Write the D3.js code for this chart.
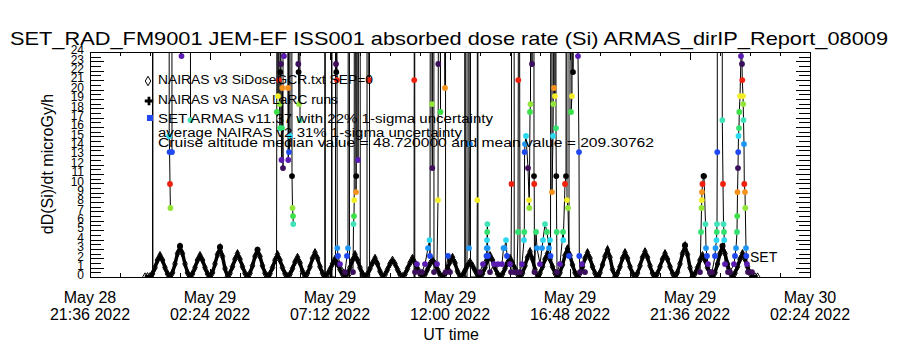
<!DOCTYPE html>
<html lang="en">
<head>
  <meta charset="UTF-8">
  <script src="https://cdn.jsdelivr.net/npm/d3@7"></script>
  <title>SET_RAD_FM9001 JEM-EF absorbed dose rate</title>
  <style>
    body { margin: 0; background: #fff; }
    svg text { font-family: "Liberation Sans", "DejaVu Sans", sans-serif; font-weight: 400; fill: #000; }
  </style>
</head>
<body>
  <svg width="900" height="350" id="chart"></svg>
  <script>
    // all data times are minutes after 2022-05-29 00:00 UT
    const baseTime = Date.UTC(2022, 4, 29, 0, 0);

    const xTickTimes = ["2022-05-28T21:36:00Z", "2022-05-29T02:24:00Z", "2022-05-29T07:12:00Z",
      "2022-05-29T12:00:00Z", "2022-05-29T16:48:00Z", "2022-05-29T21:36:00Z", "2022-05-30T02:24:00Z"];
    const yTickLabels = [0, 1, 2, 3, 4, 5, 6, 7, 8, 9, 10, 11, 12, 13, 14, 15, 16, 17, 18, 19, 20, 21, 22, 23, 24];

    const legendLines = [
      "NAIRAS v3 SiDoseGCR.txt SEP=0",
      "NAIRAS v3 NASA LaRC runs",
      "SET ARMAS v11.37 with 22% 1-sigma uncertainty",
      "average NAIRAS v2 31% 1-sigma uncertainty",
      "Cruise altitude median value = 48.720000 and mean value = 209.30762"
    ];

    // NAIRAS v3 SiDose, 6 minute samples starting 2022-05-28 23:48 UT
    const nairasStart = -12, nairasStep = 6;
    const nairasDose = [0.02, 0.05,
      0.05, 0.35, 1.0, 1.8, 2.3, 1.8, 1.0, 0.35,
      0.05, 0.45, 1.4, 2.5, 3.2, 2.5, 1.4, 0.45,
      0.05, 0.35, 1.0, 1.8, 2.3, 1.8, 1.0, 0.35,
      0.05, 0.45, 1.4, 2.4, 3.1, 2.2, 0.9,
      0.05, 0.4, 1.1, 1.9, 2.5, 1.9, 1.1, 0.4,
      0.05, 0.4, 1.2, 2.2, 2.8, 2.2, 1.2, 0.4,
      0.05, 0.35, 1.0, 1.8, 2.4, 1.8, 1.0, 0.35,
      0.05, 0.3, 0.9, 1.6, 2.1, 1.5, 0.6,
      0.05, 0.4, 1.1, 2.0, 2.6, 2.0, 1.1, 0.4,
      0.05, 0.3, 0.8, 1.4, 1.9, 1.4, 0.8, 0.3,
      0.05, 0.35, 1.0, 1.8, 2.4, 1.8, 1.0, 0.35,
      0.05, 0.3, 0.9, 1.5, 2.0, 1.4, 0.6,
      0.05, 0.25, 0.8, 1.4, 1.8, 1.4, 0.8, 0.25,
      0.05, 0.3, 0.9, 1.5, 2.0, 1.5, 0.9, 0.3,
      0.05, 0.25, 0.8, 1.4, 1.8, 1.4, 0.8, 0.25,
      0.05, 0.3, 0.9, 1.6, 2.1, 1.5, 0.6,
      0.05, 0.2, 0.7, 1.2, 1.6, 1.2, 0.7, 0.2,
      0.05, 0.35, 1.0, 1.8, 2.3, 1.8, 1.0, 0.35,
      0.05, 0.3, 0.9, 1.5, 2.0, 1.5, 0.9, 0.3,
      0.05, 0.4, 1.2, 2.1, 2.7, 1.9, 0.8,
      0.05, 0.4, 1.1, 1.9, 2.5, 1.9, 1.1, 0.4,
      0.05, 0.45, 1.3, 2.3, 3.0, 2.3, 1.3, 0.45,
      0.05, 0.4, 1.1, 2.0, 2.6, 2.0, 1.1, 0.4,
      0.05, 0.45, 1.3, 2.2, 2.9, 2.1, 0.8,
      0.05, 0.4, 1.1, 2.0, 2.6, 2.0, 1.1, 0.4,
      0.05, 0.4, 1.2, 2.1, 2.7, 2.1, 1.2, 0.4,
      0.05, 0.4, 1.1, 1.9, 2.5, 1.9, 1.1, 0.4,
      0.05, 0.5, 1.4, 2.5, 3.3, 2.4, 1.0,
      0.05, 0.35, 1.0, 1.8, 2.3, 1.8, 1.0, 0.35,
      0.05, 0.45, 1.4, 2.5, 3.2, 2.5, 1.4, 0.45,
      0.05, 0.4, 1.1, 1.9, 2.5, 1.9, 1.1, 0.4,
      0.05, 0.03, 0.02];

    // NAIRAS v3 NASA LaRC runs [minute, dose]
    const larcRuns = [[72, 3.3], [168, 3.2], [258, 2.9], [1284, 3.4], [1374, 3.3]];

    // SET ARMAS [minute, dose]; null = data gap, values above 24 are off scale
    const armasEarly = [
      [6.0, 0], [6.5, 150], [7.0, 0], null,
      [45.1, 130], [46.1, 15.04], [47.0, 13.33], [48.0, 9.92], [49.0, 7.36], null,
      [51.6, 120], [52.8, 13.33], null,
      [74.4, 90], [75.6, 23.57], null,
      [96.0, 110], [97.2, 16.74], null,
      [303.6, 0], [304.3, 17.60], [305.3, 160], [307.2, 19.30], [308.6, 140], [309.6, 21.01], [310.8, 18.45],
      [312.0, 15.89], [312.7, 21.86], [313.4, 170], [314.4, 22.72], [315.6, 12.48], [316.8, 15.89], [317.5, 20.16],
      [319.2, 11.62], [320.4, 150], [321.6, 23.57], [322.8, 200], [331.2, 20.16], [331.9, 12.48], [332.9, 180],
      [333.6, 13.33], [336.0, 15.04], [337.2, 160], [340.8, 10.77], [342.0, 7.36], [343.2, 6.50], [343.9, 5.65], null,
      [355.2, 120], [355.9, 22.72], [356.6, 21.86], [357.6, 18.45], [358.3, 140], [360.0, 16.74], null
    ];
    const armasMid = [
      [419.5, 0], [420.0, 188], [420.7, 0],
      [435.6, 0], [436.1, 164], [436.8, 0],
      [445.2, 0], [445.7, 97], [446.4, 22.72], [447.1, 21.86], [448.3, 121], [448.8, 21.01], [449.5, 3.09],
      [451.2, 2.24], [456.0, 1.38], [468.0, 0.53], [472.8, 2.24], [475.2, 3.09], [478.1, 143], [478.8, 0],
      [487.2, 0.53], [488.4, 5.65], [489.6, 6.50], [490.1, 8.21], [490.8, 86], [494.4, 9.06], [494.9, 10.77],
      [495.6, 132], [499.2, 12.48], [504.0, 77], [504.7, 0],
      [520.8, 0], [521.5, 205], [525.6, 21.01], [526.3, 118], [527.0, 0], null,
      [633.6, 0], [634.1, 21.01], [634.8, 176], [635.5, 0], [636.0, 0.53], [640.8, 1.38], [648.0, 0.53],
      [652.8, 0.53], [660.0, 1.38], [667.2, 3.09], [670.8, 3.94], [672.0, 2.24], [675.6, 154], [676.8, 18.45],
      [677.5, 11.62], [679.9, 139], [681.6, 0.53], [688.8, 1.38], [691.2, 8.21], [691.9, 22.72], [692.6, 91],
      [697.2, 17.60], [697.9, 126], [708.0, 20.16], [708.7, 167], [709.4, 0.53], [715.2, 2.24], [720.0, 0.53], null
    ];
    const armasLate = [
      [755.5, 0], [756.0, 211], [756.7, 0], [760.8, 0], [761.5, 158], [765.6, 3.09], [768.0, 14.18], [768.7, 102],
      [769.2, 0], [784.8, 0], [785.5, 8.21], [786.2, 137], [787.2, 0],
      [792.0, 0.53], [799.2, 1.38], [807.6, 2.24], [808.3, 3.09], [808.8, 3.94], [809.3, 4.80], [809.8, 5.65],
      [810.2, 3.09], [811.2, 2.24], [816.0, 0.53], [825.6, 1.38], [835.2, 1.38], [844.8, 1.38], [848.4, 3.09],
      [850.8, 3.09], [854.4, 3.94], [856.8, 2.24], [864.0, 1.38],
      [866.4, 0.53], [867.6, 9.92], [868.3, 184], [873.6, 129], [874.1, 0.53], [880.8, 0.53], [883.2, 4.80],
      [883.9, 21.01], [884.6, 96], [888.0, 0.53], [892.8, 1.38], [897.6, 3.94], [898.3, 4.80], [899.0, 13.33],
      [900.0, 14.18], [902.4, 15.04], [907.2, 11.62], [909.6, 8.21], [910.3, 7.36], [912.0, 17.60], [913.2, 18.45],
      [913.9, 147], [916.8, 22.72], [917.5, 173], [921.1, 88], [921.6, 10.77], [922.1, 9.92], [922.8, 0.53],
      [926.4, 4.80], [928.8, 3.09], [936.0, 1.38], [940.8, 3.09], [943.2, 3.94], [948.0, 5.65], [952.8, 4.80],
      [957.6, 3.09], [960.0, 3.94], [961.2, 2.24], [963.6, 119], [964.8, 9.06], [967.2, 15.04], [967.9, 18.45],
      [968.6, 162], [969.6, 20.16], [972.0, 19.30], [973.2, 141], [974.4, 15.89], [975.1, 10.77], [976.1, 4.80],
      [976.8, 0.53], [984.0, 1.38], [991.2, 4.80], [991.9, 3.94], [996.0, 9.92], [998.4, 10.77], [999.6, 108],
      [1000.8, 8.21], [1003.2, 7.36], [1005.6, 2.24], [1006.3, 195], [1010.4, 17.60], [1012.8, 19.30], [1014.0, 126],
      [1015.2, 21.86], [1017.6, 151], [1027.2, 23.57], [1029.6, 13.33], [1030.3, 2.24], [1032.0, 0.53],
      [1036.8, 1.38], [1044.0, 0.53], null
    ];
    const armasEnd = [
      [1320.0, 0.53], [1322.4, 4.80], [1323.6, 7.36], [1324.3, 8.21], [1324.8, 9.06], [1326.0, 9.92], [1328.4, 10.77],
      [1329.6, 10.77], [1333.2, 5.65], [1334.4, 3.09], [1336.8, 2.24], [1339.2, 1.38], [1344.0, 0.53], [1348.8, 0.53],
      [1356.0, 2.24], [1357.2, 3.09], [1359.6, 3.94], [1360.3, 4.80], [1360.8, 5.65], [1361.5, 13.33], [1362.0, 182],
      [1372.8, 137], [1373.5, 16.74], [1375.2, 9.92], [1376.4, 5.65], [1377.6, 4.80], [1378.3, 3.94], [1380.0, 1.38],
      [1387.2, 0.53], [1392.0, 0.53], [1401.6, 1.38], [1404.0, 2.24], [1406.4, 3.09], [1408.8, 4.80], [1409.3, 6.50],
      [1410.0, 9.06], [1411.2, 11.62], [1411.7, 13.33], [1412.4, 15.04], [1413.6, 15.89], [1414.3, 17.60],
      [1416.0, 19.30], [1418.4, 23.57], [1419.6, 64], [1420.8, 22.72], [1421.5, 21.01], [1423.2, 19.30],
      [1423.7, 18.45], [1424.4, 16.74], [1425.6, 14.18], [1426.3, 9.92], [1428.0, 9.06], [1428.7, 7.36],
      [1430.4, 3.09], [1431.1, 2.24], [1432.8, 1.38], [1435.2, 0.53], [1444.8, 0.53]
    ];

    // colour table used for the ARMAS dose steps (cycles every 13 steps)
    const stepColors = ["#3c0f5c", "#5a1cb0", "#2048f0", "#1e96f5", "#2cd8f0", "#34e070", "#40e2b8",
      "#3ce048", "#92e63a", "#f4ee28", "#f5921e", "#f0200f", "#000000"];
    const doseStep = 0.8533, doseOffset = 0.53;

    const svg = d3.select("#chart");
    const plotLeft = 90, plotRight = 810, plotTop = 52, plotBottom = 277;

    const toDate = m => new Date(baseTime + m * 60000);
    const xTicks = xTickTimes.map(d => new Date(d));

    let x = d3.scaleUtc().domain([xTicks[0], xTicks[xTicks.length - 1]]).range([plotLeft, plotRight]);
    let y = d3.scaleLinear().domain([0, 24]).range([plotBottom, plotTop]);
    let stepColor = v => stepColors[Math.round((v - doseOffset) / doseStep) % stepColors.length];

    svg.append("clipPath").attr("id", "plotclip")
      .append("rect").attr("x", plotLeft).attr("y", plotTop)
      .attr("width", plotRight - plotLeft).attr("height", plotBottom - plotTop);

    /* TITLE */
    svg.append("text")
      .attr("x", 10).attr("y", 45)
      .attr("textLength", 878).attr("lengthAdjust", "spacingAndGlyphs")
      .style("font-size", "19px")
      .text("SET_RAD_FM9001  JEM-EF ISS001 absorbed dose rate (Si) ARMAS_dirIP_Report_08009");

    /* AXES */
    let xMinor = d3.range(+xTicks[0], +xTicks[xTicks.length - 1] + 1, 72 * 60000).map(d => new Date(d));
    let yMinor = d3.range(0, 24.01, 0.5);

    let axes = svg.append("g").attr("class", "axes");
    axes.append("g").attr("transform", `translate(0,${plotBottom})`)
      .call(d3.axisBottom(x).tickValues(xMinor).tickSize(-4).tickSizeOuter(0).tickFormat(""));
    axes.append("g").attr("transform", `translate(0,${plotBottom})`)
      .call(d3.axisBottom(x).tickValues(xTicks).tickSize(-8).tickSizeOuter(0).tickFormat(""));
    axes.append("g").attr("transform", `translate(0,${plotTop})`)
      .call(d3.axisTop(x).tickValues(xMinor).tickSize(-4).tickSizeOuter(0).tickFormat(""));
    axes.append("g").attr("transform", `translate(0,${plotTop})`)
      .call(d3.axisTop(x).tickValues(xTicks).tickSize(-8).tickSizeOuter(0).tickFormat(""));
    axes.append("g").attr("transform", `translate(${plotLeft},0)`)
      .call(d3.axisLeft(y).tickValues(yMinor).tickSize(-11).tickSizeOuter(0).tickFormat(""));
    axes.append("g").attr("transform", `translate(${plotLeft},0)`)
      .call(d3.axisLeft(y).tickValues(yTickLabels).tickSize(-14).tickSizeOuter(0).tickPadding(6).tickFormat(d3.format("d")));
    axes.append("g").attr("transform", `translate(${plotRight},0)`)
      .call(d3.axisRight(y).tickValues(yMinor).tickSize(-11).tickSizeOuter(0).tickFormat(""));
    axes.append("g").attr("transform", `translate(${plotRight},0)`)
      .call(d3.axisRight(y).tickValues(yTickLabels).tickSize(-14).tickSizeOuter(0).tickFormat(""));
    axes.selectAll("line, path").attr("stroke", "#000").attr("shape-rendering", "crispEdges");
    axes.selectAll("text").style("font-size", "12px").attr("dy", "0.15em");

    svg.append("rect").attr("x", plotLeft).attr("y", plotTop)
      .attr("width", plotRight - plotLeft).attr("height", plotBottom - plotTop)
      .attr("fill", "none").attr("stroke", "#000").attr("shape-rendering", "crispEdges");

    // two line date labels under the major ticks
    let xLab = svg.append("g").selectAll("text").data(xTicks).enter().append("text")
      .attr("text-anchor", "middle").style("font-size", "16px");
    xLab.append("tspan").attr("x", d => x(d)).attr("y", 303)
      .text(d3.utcFormat("%b %d"));
    xLab.append("tspan").attr("x", d => x(d)).attr("y", 320)
      .text(d3.utcFormat("%H:%M %Y"));

    svg.append("text").attr("x", 451).attr("y", 340).attr("text-anchor", "middle")
      .style("font-size", "16px").text("UT time");

    svg.append("text").attr("transform", "translate(53,164) rotate(-90)")
      .attr("text-anchor", "middle").style("font-size", "16px")
      .text("dD(Si)/dt microGy/h");

    /* PLOT DATA */
    let plot = svg.append("g").attr("clip-path", "url(#plotclip)");

    let nairas = nairasDose.map((v, i) => [nairasStart + i * nairasStep, v]);
    let line = d3.line().defined(d => d !== null).x(d => x(toDate(d[0]))).y(d => y(d[1]));

    plot.append("path").datum(nairas).attr("d", line)
      .attr("fill", "none").attr("stroke", "#000").attr("stroke-width", 3.5);
    plot.selectAll(".diamond").data(nairas).enter().append("path")
      .attr("d", d3.symbol(d3.symbolDiamond, 18))
      .attr("transform", d => `translate(${x(toDate(d[0]))},${y(d[1])})`)
      .attr("fill", "none").attr("stroke", "#000").attr("stroke-width", 1);

    plot.selectAll(".larc").data(larcRuns).enter().append("circle")
      .attr("cx", d => x(toDate(d[0]))).attr("cy", d => y(d[1])).attr("r", 3)
      .attr("fill", "#000");

    [armasEarly, armasMid, armasLate, armasEnd].forEach(part => {
      plot.append("path").datum(part).attr("d", line)
        .attr("fill", "none").attr("stroke", "#000").attr("stroke-width", 1);
    });
    [armasEarly, armasMid, armasLate, armasEnd].forEach(part => {
      plot.selectAll(null).data(part.filter(d => d && d[1] > 0 && d[1] <= 24)).enter()
        .append("circle")
        .attr("cx", d => x(toDate(d[0]))).attr("cy", d => y(d[1])).attr("r", 2.9)
        .attr("fill", d => stepColor(d[1]));
    });

    svg.append("text").attr("x", 750).attr("y", 262).style("font-size", "14px").text("SET");

    /* LEGEND */
    let legendY = [84, 104, 123, 137, 147];
    let legendLen = [215, 180, 335, 304, 496];
    svg.append("g").selectAll("text").data(legendLines).enter().append("text")
      .attr("x", 158).attr("y", (d, i) => legendY[i])
      .attr("textLength", (d, i) => legendLen[i]).attr("lengthAdjust", "spacingAndGlyphs")
      .style("font-size", "12px").text(d => d);
    svg.append("path").attr("d", d3.symbol(d3.symbolDiamond, 26))
      .attr("transform", "translate(148,81)").attr("fill", "#fff").attr("stroke", "#000");
    svg.append("path").attr("d", d3.symbol(d3.symbolCross, 40))
      .attr("transform", "translate(149,101)").attr("fill", "#000");
    svg.append("rect").attr("x", 147).attr("y", 115).attr("width", 6).attr("height", 6)
      .attr("fill", stepColors[2]);
  </script>
</body>
</html>
